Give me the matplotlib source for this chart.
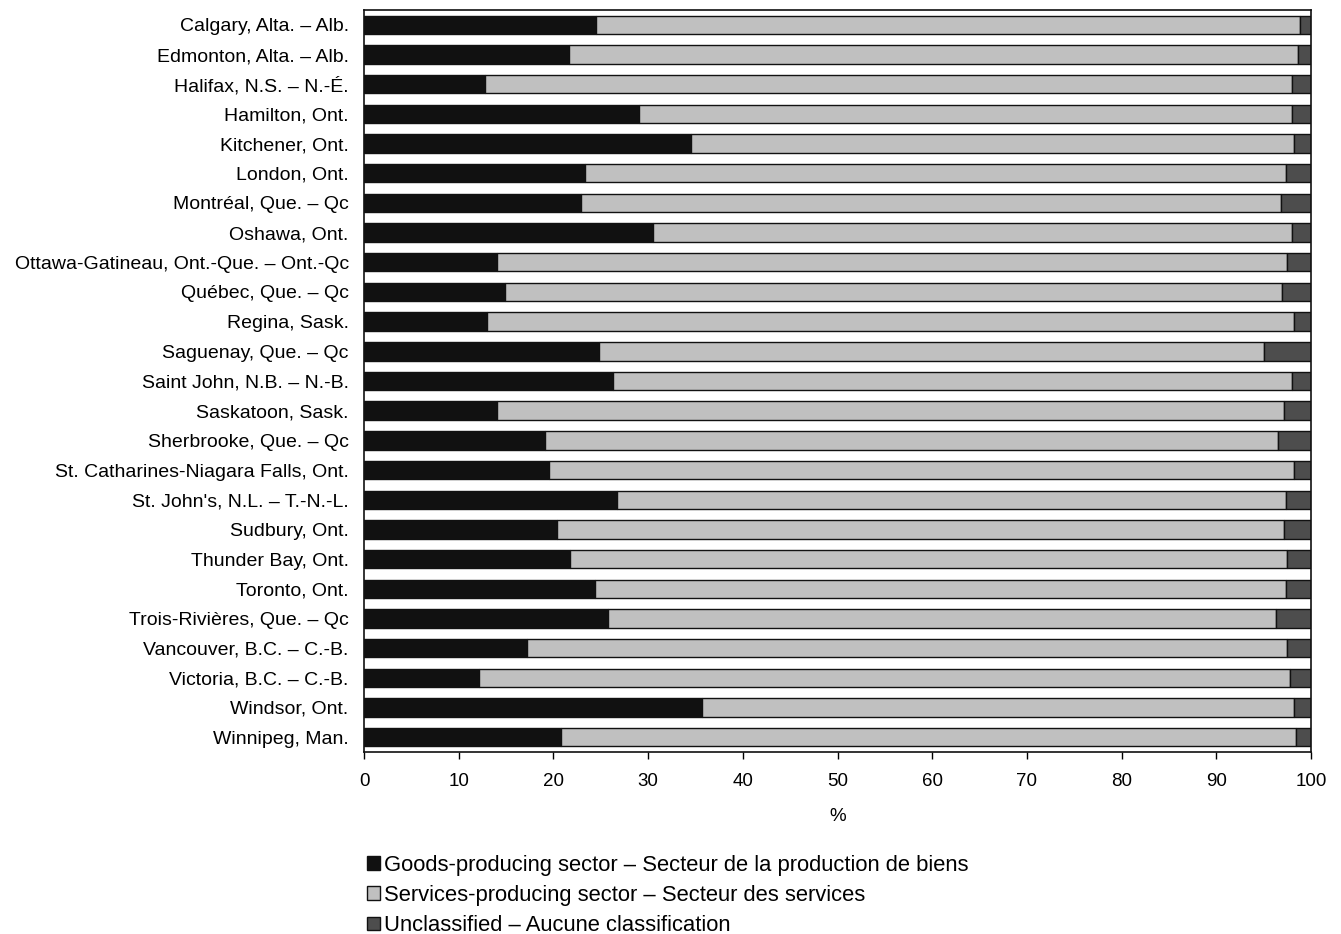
import matplotlib.pyplot as plt
from matplotlib import font_manager
import numpy as np

# Cities and sector shares (%)
cities = ['Calgary, Alta. – Alb.', 'Edmonton, Alta. – Alb.', 'Halifax, N.S. – N.-É.',
          'Hamilton, Ont.', 'Kitchener, Ont.', 'London, Ont.', 'Montréal, Que. – Qc',
          'Oshawa, Ont.', 'Ottawa-Gatineau, Ont.-Que. – Ont.-Qc', 'Québec, Que. – Qc',
          'Regina, Sask.', 'Saguenay, Que. – Qc', 'Saint John, N.B. – N.-B.',
          'Saskatoon, Sask.', 'Sherbrooke, Que. – Qc', 'St. Catharines-Niagara Falls, Ont.',
          "St. John's, N.L. – T.-N.-L.", 'Sudbury, Ont.', 'Thunder Bay, Ont.',
          'Toronto, Ont.', 'Trois-Rivières, Que. – Qc', 'Vancouver, B.C. – C.-B.',
          'Victoria, B.C. – C.-B.', 'Windsor, Ont.', 'Winnipeg, Man.']
goods = [24.5, 21.6, 12.8, 29.0, 34.5, 23.3, 22.9, 30.5, 14.0, 14.9,
         13.0, 24.8, 26.3, 14.0, 19.1, 19.5, 26.7, 20.4, 21.8, 24.4,
         25.8, 17.2, 12.1, 35.7, 20.8]
unclassified = [1.2, 1.4, 2.0, 2.0, 1.8, 2.6, 3.2, 2.0, 2.5, 3.1,
                1.8, 5.0, 2.0, 2.8, 3.5, 1.8, 2.6, 2.8, 2.5, 2.6,
                3.7, 2.5, 2.2, 1.8, 1.6]
services = [round(100 - g - u, 1) for g, u in zip(goods, unclassified)]

legend_labels = ['Goods-producing sector – Secteur de la production de biens',
                 'Services-producing sector – Secteur des services',
                 'Unclassified – Aucune classification']
colors = ['#111111', '#c0c0c0', '#4d4d4d']

# condensed font for city names if available
try:
    font_manager.findfont('Liberation Sans Narrow', fallback_to_default=False)
    label_font, label_size = 'Liberation Sans Narrow', 16.5
except Exception:
    label_font, label_size = 'Liberation Sans', 14

plt.rcParams['font.family'] = 'Liberation Sans'

fig = plt.figure(figsize=(13.41, 9.34), dpi=100)
ax = fig.add_axes([364 / 1341, 1 - 752 / 934, (1311 - 364) / 1341, (752 - 10) / 934])

y = np.arange(len(cities))
left = np.zeros(len(cities))
for vals, col, lab in zip([goods, services, unclassified], colors, legend_labels):
    ax.barh(y, vals, left=left, height=0.62, color=col, edgecolor='#111111',
            linewidth=1, label=lab)
    left += np.array(vals)

ax.set_xlim(0, 100)
ax.set_ylim(len(cities) - 0.5, -0.5)
ax.set_xticks(range(0, 101, 10))
ax.set_yticks(y)
ax.set_yticklabels(cities, fontfamily=label_font, fontsize=label_size)
ax.tick_params(axis='y', length=0, pad=11)
ax.tick_params(axis='x', direction='out', length=5, width=1, labelsize=13.5, pad=10)
ax.set_xlabel('%', fontsize=13.5, labelpad=13)
for s in ax.spines.values():
    s.set_color('#111111')
    s.set_linewidth(1.2)

fig.legend(loc='upper left', bbox_to_anchor=(358 / 1341, 1 - 846 / 934),
           frameon=False, fontsize=15.8, handlelength=0.6, handleheight=0.6,
           handletextpad=0.2, labelspacing=0.42, borderaxespad=0)

plt.savefig('out.png', dpi=100)
